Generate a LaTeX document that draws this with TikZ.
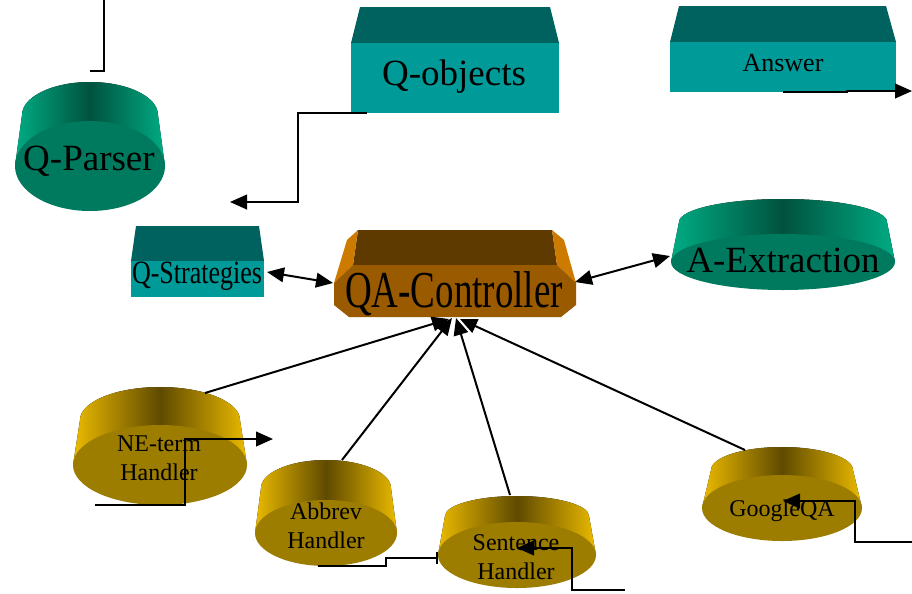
\documentclass[tikz,border=0pt]{standalone}
\usepackage{graphicx}
\usepackage{fontspec}
\setmainfont{Liberation Serif}
\usetikzlibrary{arrows.meta}

\definecolor{boxtop}{RGB}{0,98,94}
\definecolor{boxfront}{RGB}{0,155,152}
\definecolor{greenedge}{RGB}{0,172,132}
\definecolor{greenmid}{RGB}{0,82,62}
\definecolor{greenface}{RGB}{0,122,94}
\definecolor{goldedge}{RGB}{235,186,0}
\definecolor{goldmid}{RGB}{95,74,0}
\definecolor{goldface}{RGB}{156,125,0}
\definecolor{ctltop}{RGB}{94,58,0}
\definecolor{ctlfront}{RGB}{154,90,0}
\definecolor{ctlbevel}{RGB}{204,122,0}

% can: centre x, back centre y, back rx, back ry, front centre y, front rx, front ry, colour family
\newcommand{\drawcan}[8]{%
  \fill[left color=#8edge, right color=#8edge, middle color=#8mid]
    ({#1-#3},#2) arc[start angle=180, end angle=360, x radius=#3, y radius=#4]
    -- ({#1+#6},#5) -- ({#1-#6},#5) -- cycle;
  \fill[#8face] (#1,#5) ellipse[x radius=#6, y radius=#7];
}
% slab: front left, front right, top left, top right, top y, edge y, bottom y
\newcommand{\drawslab}[7]{%
  \fill[boxtop] (#3,#5) -- (#4,#5) -- (#2,#6) -- (#1,#6) -- cycle;
  \fill[boxfront] (#1,#6) rectangle (#2,#7);
}

\tikzset{
  big/.style={inner sep=0pt, font=\fontsize{27.75pt}{33pt}\selectfont},
  mid/.style={inner sep=0pt, font=\fontsize{19.5pt}{23pt}\selectfont},
  small/.style={inner sep=0pt, align=center, font=\fontsize{18pt}{21.75pt}\selectfont},
  tip/.tip={Triangle[length=12.75pt,width=11pt]},
  conn/.style={draw, line width=1.5pt, -tip},
  bothconn/.style={draw, line width=1.5pt, tip-tip},
  wire/.style={draw, line width=1.5pt}
}

\begin{document}
\begin{tikzpicture}[x=0.75pt, y=-0.75pt]
\useasboundingbox (0,0) rectangle (912,593);
\fill[white] (0,0) rectangle (912,593);

% --- slabs ---
\drawslab{351}{559}{360}{550}{7}{43}{113}
\drawslab{670}{896}{679}{886}{6}{42}{92}
\drawslab{131}{264}{136}{259}{226}{261}{297}

% --- controller block ---
\fill[ctltop] (358,230) -- (552,230) -- (557,265) -- (353,265) -- cycle;
\fill[ctlbevel] (358,230) -- (347,240) -- (334,283) -- (353,265) -- cycle;
\fill[ctlbevel] (552,230) -- (564,240) -- (576,283) -- (557,265) -- cycle;
\fill[ctlfront] (353,265) -- (557,265) -- (576,283) -- (576,305) -- (561,317)
  -- (349,317) -- (334,305) -- (334,283) -- cycle;

% --- cans ---
\drawcan{90}{115}{68}{33}{166}{75}{45}{green}
\drawcan{783}{222}{104}{23}{262}{112}{28}{green}
\drawcan{160}{420}{80}{33}{465}{87}{40}{gold}
\drawcan{326}{488}{65}{28}{533}{71}{33}{gold}
\drawcan{517}{516}{72}{20}{555}{79}{33}{gold}
\drawcan{782}{470}{71}{23}{508}{80}{33}{gold}

% --- labels ---
\node[big, anchor=base] (qobj) at (454,85) {Q-objects};
\node[mid, anchor=base] (answer) at (783,71) {Answer};
\node[mid, anchor=base] (qstrat) at (197,283) {\scalebox{1}[1.25]{Q-Strategies}};
\node[big, anchor=base] (ctl) at (454,307) {\scalebox{1}[1.4]{QA-Controller}};
\node[big, anchor=base] (qparser) at (89,170) {Q-Parser};
\node[big, anchor=base] (aext) at (783,272) {A-Extraction};
\node[small, anchor=center] (neterm) at (159,458) {NE-term\\Handler};
\node[small, anchor=center] (abbrev) at (326,526) {Abbrev\\Handler};
\node[small, anchor=center] (sentence) at (516,557) {Sentence\\Handler};
\node[small, anchor=base] (google) at (782,516) {GoogleQA};

% --- connector ends ---
\coordinate (pfeed) at (104,0);
\coordinate (pstub) at (90,71);
\coordinate (qoout) at (367,113);
\coordinate (qoend) at (230,202);
\coordinate (ansout) at (783,92);
\coordinate (ansend) at (912,91);
\coordinate (stratR) at (267,272);
\coordinate (ctlL) at (333,283);
\coordinate (ctlR) at (575,282);
\coordinate (aextL) at (670,256);
\coordinate (neTop) at (205,393);
\coordinate (abTop) at (342,460);
\coordinate (seTop) at (510,495);
\coordinate (goTop) at (745,450);
\coordinate (tipA) at (449,319);
\coordinate (tipB) at (452,318);
\coordinate (tipC) at (456,318);
\coordinate (tipD) at (460,319);
\coordinate (neFoot) at (95,505);
\coordinate (neEnd) at (273,439);
\coordinate (abFoot) at (318,566);
\coordinate (abEnd) at (438,558);
\coordinate (seFoot) at (625,590);
\coordinate (seEnd) at (517,548);
\coordinate (goFoot) at (912,542);
\coordinate (goEnd) at (783,501);

% --- connectors ---
\path[wire] (pfeed) |- (pstub);
\path[conn] (qoout) -- ++(-69,0) |- (qoend);
\path[conn] (ansout) -- ++(64,0) -- ++(0,-1) -- (ansend);
\path[bothconn] (stratR) -- (ctlL);
\path[bothconn] (ctlR) -- (aextL);
\path[conn] (neTop) -- (tipA);
\path[conn] (abTop) -- (tipB);
\path[conn] (seTop) -- (tipC);
\path[conn] (goTop) -- (tipD);
\path[conn] (neFoot) -- ++(90,0) |- (neEnd);
\path[wire, -{Bar[width=9pt]}] (abFoot) -- ++(68,0) |- (abEnd);
\path[conn] (seFoot) -- ++(-53,0) |- (seEnd);
\path[conn] (goFoot) -- ++(-57,0) |- (goEnd);
\end{tikzpicture}
\end{document}
